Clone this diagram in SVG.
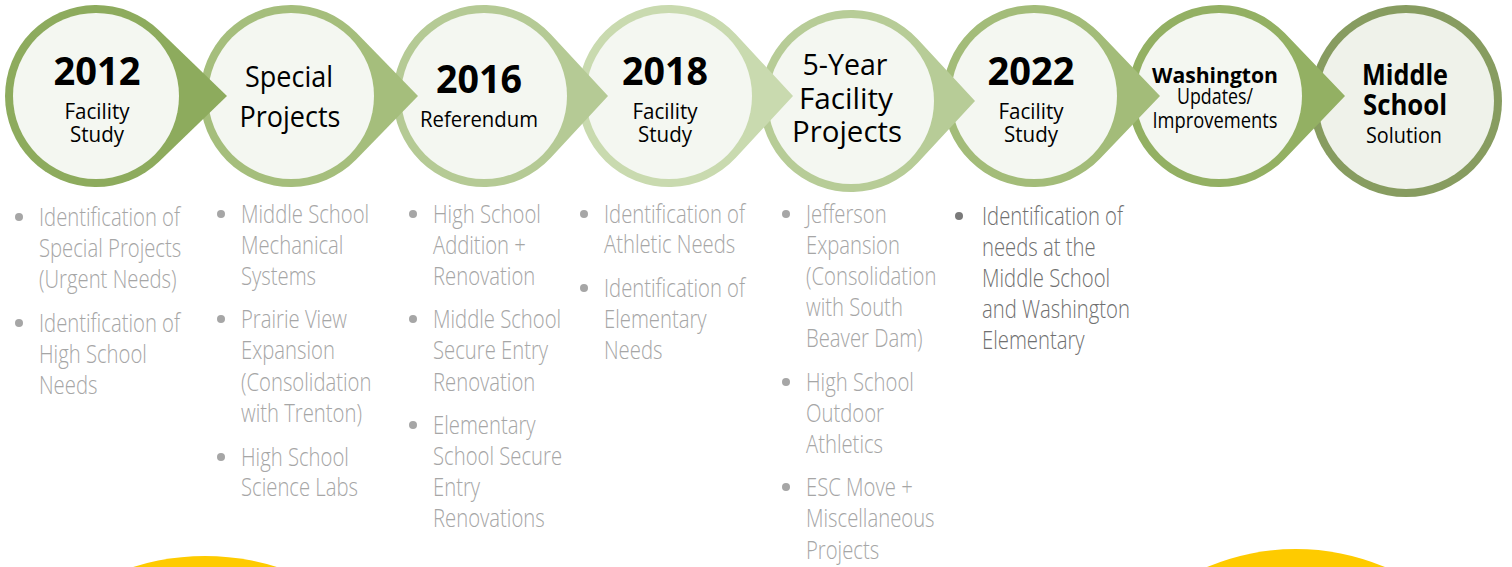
<svg xmlns="http://www.w3.org/2000/svg" width="1512" height="567" viewBox="0 0 1512 567">
<style>
.fill{fill:#f4f7f1}
.h{font-family:"Open Sans","Noto Sans",sans-serif;fill:#000;text-anchor:middle}
.b{font-weight:700}
.bl{font-family:"Open Sans","Noto Sans",sans-serif;font-size:26px;font-weight:300;fill:#a6a6a6}
.dk{fill:#707070}
.dot{fill:#a6a6a6}
.dotdk{fill:#7a7a7a}
.sun{fill:#fecb00}
</style>
<rect width="1512" height="567" fill="#ffffff"/>
<g id="decor">
<circle class="sun" cx="205" cy="796" r="240"/>
<circle class="sun" cx="1296" cy="778" r="229"/>
</g>
<g id="connectors"></g>
<g id="n8">
<circle cx="1406" cy="101" r="96" fill="#879c60"/>
<circle cx="1406" cy="101" r="88" fill="#eff2ea"/>
<text class="h b" x="1405" y="85" font-size="28" textLength="86" lengthAdjust="spacingAndGlyphs">Middle</text>
<text class="h b" x="1405" y="115" font-size="28" textLength="84" lengthAdjust="spacingAndGlyphs">School</text>
<text class="h" x="1404" y="143" font-size="21" textLength="76" lengthAdjust="spacingAndGlyphs">Solution</text>
</g>
<g id="n7">
<path d="M1345,96 L1284.7,33.1 A91,91 0 1 0 1284.7,158.9 Z" fill="#93b063"/>
<circle class="fill" cx="1219" cy="96" r="83"/>
<text class="h b" x="1215" y="83" font-size="22" textLength="126" lengthAdjust="spacingAndGlyphs">Washington</text>
<text class="h" x="1215" y="104" font-size="22" textLength="76" lengthAdjust="spacingAndGlyphs">Updates/</text>
<text class="h" x="1215" y="128" font-size="22" textLength="125" lengthAdjust="spacingAndGlyphs">Improvements</text>
</g>
<g id="n6">
<path d="M1160,96 L1099.7,33.1 A91,91 0 1 0 1099.7,158.9 Z" fill="#a3bc79"/>
<circle class="fill" cx="1034" cy="96" r="83"/>
<text class="h b" x="1031" y="85" font-size="39" textLength="87" lengthAdjust="spacingAndGlyphs">2022</text>
<text class="h" x="1031" y="119" font-size="22" textLength="65" lengthAdjust="spacingAndGlyphs">Facility</text>
<text class="h" x="1031" y="142" font-size="22" textLength="54" lengthAdjust="spacingAndGlyphs">Study</text>
</g>
<g id="n5">
<path d="M975,101 L917.8,39.2 A91,91 0 1 0 917.8,162.8 Z" fill="#b7cc97"/>
<circle class="fill" cx="851" cy="101" r="83"/>
<text class="h" x="845" y="75" font-size="30" textLength="85" lengthAdjust="spacingAndGlyphs">5-Year</text>
<text class="h" x="846" y="109" font-size="30" textLength="94" lengthAdjust="spacingAndGlyphs">Facility</text>
<text class="h" x="847" y="142" font-size="30" textLength="110" lengthAdjust="spacingAndGlyphs">Projects</text>
</g>
<g id="n4">
<path d="M793,96 L735.8,34.2 A91,91 0 1 0 735.8,157.8 Z" fill="#c9daaf"/>
<circle class="fill" cx="669" cy="96" r="83"/>
<text class="h b" x="665" y="85" font-size="39" textLength="86" lengthAdjust="spacingAndGlyphs">2018</text>
<text class="h" x="665" y="119" font-size="22" textLength="65" lengthAdjust="spacingAndGlyphs">Facility</text>
<text class="h" x="665" y="142" font-size="22" textLength="54" lengthAdjust="spacingAndGlyphs">Study</text>
</g>
<g id="n3">
<path d="M608,96 L550.8,34.2 A91,91 0 1 0 550.8,157.8 Z" fill="#b5ca95"/>
<circle class="fill" cx="484" cy="96" r="83"/>
<text class="h b" x="479" y="93" font-size="39" textLength="86" lengthAdjust="spacingAndGlyphs">2016</text>
<text class="h" x="479" y="127" font-size="21" textLength="118" lengthAdjust="spacingAndGlyphs">Referendum</text>
</g>
<g id="n2">
<path d="M418,96 L356.2,32.5 A91,91 0 1 0 356.2,159.5 Z" fill="#a5be7c"/>
<circle class="fill" cx="291" cy="96" r="83"/>
<text class="h" x="289" y="87" font-size="30" textLength="88" lengthAdjust="spacingAndGlyphs">Special</text>
<text class="h" x="290" y="127" font-size="30" textLength="101" lengthAdjust="spacingAndGlyphs">Projects</text>
</g>
<g id="n1">
<path d="M227,96 L159.2,30.5 A91,91 0 1 0 159.2,161.5 Z" fill="#8dab5d"/>
<circle class="fill" cx="96" cy="96" r="83"/>
<text class="h b" x="97" y="85" font-size="39" textLength="87" lengthAdjust="spacingAndGlyphs">2012</text>
<text class="h" x="97" y="119" font-size="22" textLength="65" lengthAdjust="spacingAndGlyphs">Facility</text>
<text class="h" x="97" y="142" font-size="22" textLength="54" lengthAdjust="spacingAndGlyphs">Study</text>
</g>
<g id="list1">
<circle class="dot" cx="19" cy="217" r="4"/>
<circle class="dot" cx="19" cy="323" r="4"/>
<text class="bl" transform="translate(39,0) scale(0.78,1)"><tspan x="0" y="226">Identification of</tspan><tspan x="0" y="257">Special Projects</tspan><tspan x="0" y="288">(Urgent Needs)</tspan><tspan x="0" y="332">Identification of</tspan><tspan x="0" y="363">High School</tspan><tspan x="0" y="394">Needs</tspan></text>
</g>
<g id="list2">
<circle class="dot" cx="221" cy="214" r="4"/>
<circle class="dot" cx="221" cy="319" r="4"/>
<circle class="dot" cx="221" cy="457" r="4"/>
<text class="bl" transform="translate(241,0) scale(0.78,1)"><tspan x="0" y="223">Middle School</tspan><tspan x="0" y="254">Mechanical</tspan><tspan x="0" y="285">Systems</tspan><tspan x="0" y="328">Prairie View</tspan><tspan x="0" y="359">Expansion</tspan><tspan x="0" y="391">(Consolidation</tspan><tspan x="0" y="422">with Trenton)</tspan><tspan x="0" y="466">High School</tspan><tspan x="0" y="496">Science Labs</tspan></text>
</g>
<g id="list3">
<circle class="dot" cx="413" cy="214" r="4"/>
<circle class="dot" cx="413" cy="319" r="4"/>
<circle class="dot" cx="413" cy="425" r="4"/>
<text class="bl" transform="translate(433,0) scale(0.78,1)"><tspan x="0" y="223">High School</tspan><tspan x="0" y="254">Addition +</tspan><tspan x="0" y="285">Renovation</tspan><tspan x="0" y="328">Middle School</tspan><tspan x="0" y="359">Secure Entry</tspan><tspan x="0" y="391">Renovation</tspan><tspan x="0" y="434">Elementary</tspan><tspan x="0" y="465">School Secure</tspan><tspan x="0" y="496">Entry</tspan><tspan x="0" y="527">Renovations</tspan></text>
</g>
<g id="list4">
<circle class="dot" cx="584" cy="214" r="4"/>
<circle class="dot" cx="584" cy="288" r="4"/>
<text class="bl" transform="translate(604,0) scale(0.78,1)"><tspan x="0" y="223">Identification of</tspan><tspan x="0" y="253">Athletic Needs</tspan><tspan x="0" y="297">Identification of</tspan><tspan x="0" y="328">Elementary</tspan><tspan x="0" y="359">Needs</tspan></text>
</g>
<g id="list5">
<circle class="dot" cx="786" cy="214" r="4"/>
<circle class="dot" cx="786" cy="382" r="4"/>
<circle class="dot" cx="786" cy="487" r="4"/>
<text class="bl" transform="translate(806,0) scale(0.78,1)"><tspan x="0" y="223">Jefferson</tspan><tspan x="0" y="254">Expansion</tspan><tspan x="0" y="285">(Consolidation</tspan><tspan x="0" y="316">with South</tspan><tspan x="0" y="347">Beaver Dam)</tspan><tspan x="0" y="391">High School</tspan><tspan x="0" y="422">Outdoor</tspan><tspan x="0" y="453">Athletics</tspan><tspan x="0" y="496">ESC Move +</tspan><tspan x="0" y="527">Miscellaneous</tspan><tspan x="0" y="559">Projects</tspan></text>
</g>
<g id="list6">
<circle class="dotdk" cx="959" cy="216" r="4"/>
<text class="bl dk" transform="translate(982,0) scale(0.78,1)"><tspan x="0" y="225">Identification of</tspan><tspan x="0" y="256">needs at the</tspan><tspan x="0" y="287">Middle School</tspan><tspan x="0" y="318">and Washington</tspan><tspan x="0" y="349">Elementary</tspan></text>
</g>
</svg>
